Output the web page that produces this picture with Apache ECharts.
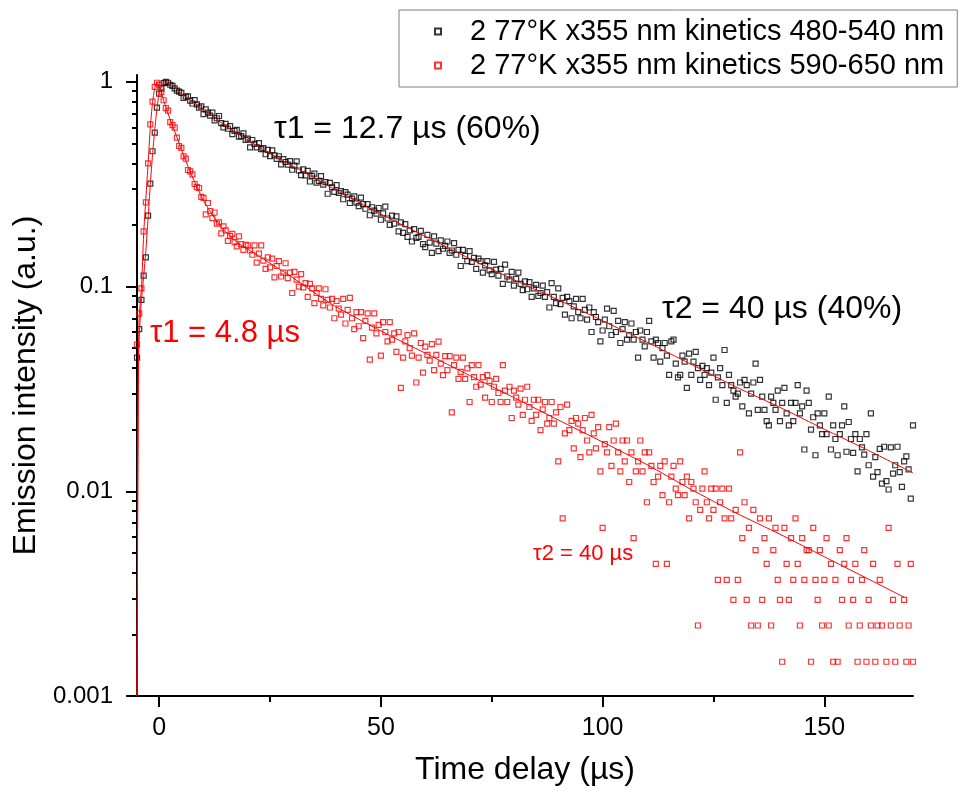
<!DOCTYPE html>
<html>
<head>
<meta charset="utf-8">
<script src="https://cdn.jsdelivr.net/npm/echarts@6/dist/echarts.min.js"></script>
<style>
  html, body { margin: 0; padding: 0; background: #fff; }
  #chart { width: 962px; height: 796px; }
</style>
</head>
<body>
<div id="chart"></div>
<script>
// ---- Data ----
const seriesNames = ['2 77°K x355 nm kinetics 480-540 nm', '2 77°K x355 nm kinetics 590-650 nm'];

// Sampling times (µs)
const timeDelay = [
  -5,-4.5,-4,-3.5,-3,-2.5,-2,-1.5,-1,-0.5,
  0,0.5,1,1.5,2,2.5,3,3.5,4,4.5,
  5,5.5,6,6.5,7,7.5,8,8.5,9,9.5,
  10,10.5,11,11.5,12,12.5,13,13.5,14,14.5,
  15,15.5,16,16.5,17,17.5,18,18.5,19,19.5,
  20,20.5,21,21.5,22,22.5,23,23.5,24,24.5,
  25,25.5,26,26.5,27,27.5,28,28.5,29,29.5,
  30,30.5,31,31.5,32,32.5,33,33.5,34,34.5,
  35,35.5,36,36.5,37,37.5,38,38.5,39,39.5,
  40,40.5,41,41.5,42,42.5,43,43.5,44,44.5,
  45,45.5,46,46.5,47,47.5,48,48.5,49,49.5,
  50,50.5,51,51.5,52,52.5,53,53.5,54,54.5,
  55,55.5,56,56.5,57,57.5,58,58.5,59,59.5,
  60,60.5,61,61.5,62,62.5,63,63.5,64,64.5,
  65,65.5,66,66.5,67,67.5,68,68.5,69,69.5,
  70,70.5,71,71.5,72,72.5,73,73.5,74,74.5,
  75,75.5,76,76.5,77,77.5,78,78.5,79,79.5,
  80,80.5,81,81.5,82,82.5,83,83.5,84,84.5,
  85,85.5,86,86.5,87,87.5,88,88.5,89,89.5,
  90,90.5,91,91.5,92,92.5,93,93.5,94,94.5,
  95,95.5,96,96.5,97,97.5,98,98.5,99,99.5,
  100,100.5,101,101.5,102,102.5,103,103.5,104,104.5,
  105,105.5,106,106.5,107,107.5,108,108.5,109,109.5,
  110,110.5,111,111.5,112,112.5,113,113.5,114,114.5,
  115,115.5,116,116.5,117,117.5,118,118.5,119,119.5,
  120,120.5,121,121.5,122,122.5,123,123.5,124,124.5,
  125,125.5,126,126.5,127,127.5,128,128.5,129,129.5,
  130,130.5,131,131.5,132,132.5,133,133.5,134,134.5,
  135,135.5,136,136.5,137,137.5,138,138.5,139,139.5,
  140,140.5,141,141.5,142,142.5,143,143.5,144,144.5,
  145,145.5,146,146.5,147,147.5,148,148.5,149,149.5,
  150,150.5,151,151.5,152,152.5,153,153.5,154,154.5,
  155,155.5,156,156.5,157,157.5,158,158.5,159,159.5,
  160,160.5,161,161.5,162,162.5,163,163.5,164,164.5,
  165,165.5,166,166.5,167,167.5,168,168.5,169,169.5,
  170
];

// Emission intensity, 480-540 nm (black squares)
const intensity480_540 = [
  0.045,0.062,0.086,0.113,0.139,0.222,0.318,0.458,0.565,0.748,
  0.875,0.93,0.985,1.0,0.99,0.968,0.955,0.93,0.905,0.895,
  0.884,0.834,0.847,0.849,0.809,0.784,0.815,0.776,0.748,0.759,
  0.695,0.733,0.707,0.684,0.707,0.648,0.664,0.681,0.629,0.599,
  0.623,0.59,0.608,0.555,0.576,0.583,0.54,0.543,0.56,0.521,
  0.528,0.479,0.52,0.498,0.479,0.502,0.469,0.474,0.443,0.465,
  0.434,0.463,0.438,0.42,0.433,0.395,0.419,0.406,0.394,0.41,
  0.372,0.39,0.409,0.369,0.35,0.374,0.349,0.367,0.326,0.347,
  0.356,0.322,0.328,0.346,0.315,0.324,0.284,0.321,0.305,0.29,
  0.313,0.287,0.293,0.267,0.289,0.281,0.256,0.269,0.276,0.257,
  0.247,0.272,0.253,0.24,0.253,0.223,0.244,0.235,0.227,0.242,
  0.212,0.228,0.246,0.215,0.2,0.222,0.203,0.22,0.186,0.206,
  0.183,0.202,0.175,0.188,0.166,0.191,0.173,0.175,0.187,0.161,
  0.156,0.179,0.164,0.146,0.176,0.162,0.149,0.168,0.153,0.158,
  0.166,0.146,0.15,0.163,0.143,0.151,0.126,0.151,0.141,0.133,
  0.149,0.132,0.138,0.122,0.137,0.133,0.117,0.127,0.133,0.12,
  0.115,0.132,0.121,0.113,0.122,0.103,0.128,0.112,0.108,0.118,
  0.101,0.109,0.117,0.103,0.096,0.106,0.097,0.105,0.089,0.098,
  0.102,0.09,0.093,0.101,0.089,0.094,0.079,0.104,0.089,0.083,
  0.098,0.082,0.088,0.073,0.089,0.085,0.07,0.08,0.087,0.075,
  0.07,0.087,0.077,0.069,0.079,0.06,0.075,0.071,0.067,0.054,
  0.061,0.069,0.078,0.064,0.058,0.076,0.06,0.068,0.053,0.062,
  0.067,0.055,0.058,0.066,0.055,0.06,0.045,0.061,0.055,0.051,
  0.06,0.068,0.054,0.045,0.055,0.053,0.043,0.05,0.053,0.046,
  0.037,0.054,0.055,0.042,0.036,0.037,0.046,0.043,0.032,0.047,
  0.037,0.043,0.048,0.04,0.035,0.041,0.037,0.04,0.033,0.038,
  0.045,0.028,0.036,0.04,0.033,0.049,0.027,0.037,0.033,0.031,
  0.029,0.03,0.034,0.026,0.035,0.033,0.024,0.03,0.034,0.042,
  0.025,0.035,0.029,0.025,0.022,0.021,0.029,0.027,0.025,0.031,
  0.022,0.027,0.032,0.024,0.021,0.027,0.022,0.027,0.033,0.024,
  0.026,0.016,0.031,0.027,0.02,0.023,0.015,0.024,0.021,0.019,
  0.024,0.019,0.029,0.016,0.021,0.018,0.015,0.019,0.021,0.026,
  0.0156,0.0218,0.018,0.0154,0.019,0.0125,0.018,0.0164,0.0151,0.019,
  0.0134,0.024,0.0118,0.0147,0.0124,0.0161,0.0109,0.0165,0.0112,0.0102,
  0.0164,0.0122,0.0134,0.0165,0.0124,0.0105,0.014,0.0148,0.0128,0.0092,
  0.021
];

// Emission intensity, 590-650 nm (red squares); null = no counts above the axis floor
const intensity590_650 = [
  0.052,0.074,0.098,0.186,0.258,0.40,0.62,0.80,0.945,0.99,
  0.97,0.894,0.813,0.744,0.723,0.635,0.615,0.598,0.534,0.486,
  0.476,0.432,0.422,0.371,0.365,0.353,0.317,0.306,0.303,0.274,
  0.271,0.225,0.256,0.234,0.216,0.23,0.203,0.206,0.182,0.197,
  0.188,0.167,0.177,0.181,0.165,0.157,0.176,0.161,0.151,0.16,
  0.159,0.15,0.143,0.159,0.131,0.145,0.159,0.134,0.122,0.139,
  0.124,0.137,0.111,0.126,0.133,0.112,0.117,0.13,0.11,0.117,
  0.093,0.118,0.108,0.1,0.115,0.099,0.104,0.089,0.103,0.098,
  0.083,0.093,0.098,0.087,0.081,0.097,0.086,0.079,0.087,0.07,
  0.085,0.078,0.073,0.087,0.066,0.077,0.088,0.07,0.062,0.075,
  0.064,0.075,0.056,0.068,0.074,0.044,0.063,0.074,0.059,0.065,
  0.046,0.067,0.06,0.054,0.067,0.055,0.059,0.048,0.06,0.032,
  0.045,0.054,0.058,0.05,0.046,0.059,0.034,0.045,0.053,0.038,
  0.0509,0.0464,0.0435,0.0523,0.0391,0.0464,0.0538,0.042,0.0369,0.0457,
  0.0391,0.0457,0.0243,0.0413,0.045,0.0354,0.0383,0.045,0.0354,0.0398,
  0.0273,0.0413,0.0361,0.0324,0.0413,0.0332,0.0361,0.0287,0.0369,0.0346,
  0.0273,0.0324,0.0354,0.0302,0.0273,0.0413,0.031,0.0273,0.0324,0.0228,
  0.031,0.0287,0.0265,0.0317,0.0236,0.028,0.0324,0.0258,0.0221,0.028,
  0.0236,0.028,0.0199,0.0251,0.0273,0.0214,0.0228,0.0273,0.0214,0.0243,
  0.014,0.0258,0.00737,0.0192,0.0265,0.0199,0.0221,0.0162,0.0228,0.0214,
  0.0147,0.0199,0.0228,0.0177,0.0155,0.0236,0.0192,0.0162,0.0206,0.0125,
  0.00663,0.017,0.0155,0.0206,0.0133,0.0177,0.0214,0.0155,0.0125,0.0177,
  0.014,0.0177,0.0111,0.0155,0.0059,0.0125,0.014,0.0177,0.0125,0.0155,
  0.00884,0.0155,0.0133,0.0111,0.00442,0.0118,0.0133,0.00958,0.014,0.00442,
  0.00884,0.0118,0.0133,0.0103,0.00958,0.014,0.0111,0.00958,0.0118,0.00737,
  0.0111,0.0103,0.00884,0.00221,0.00811,0.0103,0.0125,0.00884,0.00737,0.0103,
  0.00811,0.0103,0.00369,0.00884,0.0103,0.00737,0.00369,0.0103,0.00737,0.00295,
  0.00811,0.00369,0.0155,0.0059,0.00884,0.00295,0.00663,0.00221,0.00811,0.00516,
  0.00221,0.00737,0.00295,0.0059,0.00442,0.00737,0.00221,0.00516,0.00663,0.00369,
  0.00295,0.00147,0.00663,0.00442,0.00295,0.0059,0.00369,0.00737,0.00442,0.00221,
  0.0059,0.00369,0.00516,0.00516,0.00147,0.00663,0.00369,0.00295,0.00516,0.00221,
  0.00369,0.0059,0.00221,0.00442,0.00147,0.00369,0.00147,0.00516,0.00295,0.00442,
  0.0059,0.00221,0.00369,0.00295,0.00442,0.00147,0.00221,0.00369,0.00516,0.00147,
  0.00295,0.00221,0.00442,0.00147,0.00221,0.00369,0.00221,null,0.00147,0.00663,
  0.00221,0.00295,0.00147,0.00442,0.00221,null,0.00295,0.00147,0.00221,0.00442,
  0.00147
];

// Fit curves (drawn as thin red lines)
const fitTime480_540 = [-5,-4.9,-4.8,-4.7,-4.6,-4.4,-4,-3.5,-3,-2.5,-2,-1.5,-1,-0.5,0,0.5,1,1.5,2,3,4,5,7.5,10,12.5,15,17.5,20,25,30,35,40,50,60,70,80,90,100,110,120,130,140,150,160,170];
const fitValue480_540 = [0.001,0.0035,0.012,0.03,0.05,0.063,0.085,0.112,0.15,0.215,0.315,0.44,0.58,0.74,0.88,0.95,0.99,1.0,0.99,0.96,0.92,0.875,0.80,0.733,0.668,0.61,0.562,0.519,0.447,0.389,0.339,0.295,0.226,0.176,0.137,0.108,0.0861,0.0681,0.0535,0.0417,0.0324,0.0257,0.0201,0.0158,0.0123];
const fitTime590_650 = [-5,-4.9,-4.8,-4.7,-4.5,-4,-3.5,-3,-2.5,-2,-1.5,-1,-0.5,0,1,2,3,4,5,6,7,8,9,10,12,14,16,18,20,22,25,30,35,40,50,60,70,80,90,100,110,120,130,140,150,160,168];
const fitValue590_650 = [0.001,0.005,0.02,0.045,0.072,0.098,0.18,0.27,0.40,0.60,0.79,0.93,1.0,0.955,0.813,0.70,0.61,0.537,0.468,0.412,0.363,0.324,0.292,0.263,0.224,0.195,0.176,0.162,0.152,0.143,0.130,0.111,0.0933,0.0794,0.0607,0.0473,0.0368,0.0287,0.0223,0.0174,0.0135,0.0102,0.00785,0.00617,0.00479,0.00372,0.00304];

// Axis ticks
const xMajorTicks = [0, 50, 100, 150];
const xMinorTicks = [25, 75, 125];
const yMajorTicks = [0.001, 0.01, 0.1, 1];
const yTickLabels = ['0.001', '0.01', '0.1', '1'];
const yMinorTicks = [0.002,0.003,0.004,0.005,0.006,0.007,0.008,0.009,
                     0.02,0.03,0.04,0.05,0.06,0.07,0.08,0.09,
                     0.2,0.3,0.4,0.5,0.6,0.7,0.8,0.9];

// ---- Build ----
function pairs(xs, ys) {
  const out = [];
  const n = Math.min(xs.length, ys.length);
  for (let i = 0; i < n; i++) {
    if (ys[i] != null && ys[i] > 0) out.push([xs[i], ys[i]]);
  }
  return out;
}

const FONT = '"Liberation Sans", Arial, Helvetica, sans-serif';
const chart = echarts.init(document.getElementById('chart'), null, { renderer: 'canvas' });

const axisBlack = { color: '#000', width: 2 };

const option = {
  animation: false,
  backgroundColor: '#fff',
  textStyle: { fontFamily: FONT },
  grid: { left: 137, right: 49, top: 75, bottom: 100, containLabel: false },
  legend: {
    data: seriesNames,
    orient: 'vertical',
    left: 399,
    top: 10,
    padding: [7, 13, 7, 35],
    itemGap: 5,
    itemWidth: 6,
    itemHeight: 6,
    borderColor: '#7f7f7f',
    borderWidth: 1,
    textStyle: { fontSize: 29, color: '#000', fontFamily: FONT, padding: [0, 0, 0, 24] }
  },
  xAxis: [
    {
      type: 'value', min: -5, max: 170, position: 'bottom',
      name: 'Time delay (µs)', nameLocation: 'middle', nameGap: 58,
      nameTextStyle: { fontSize: 32, color: '#000', fontFamily: FONT },
      axisLine: { show: true, onZero: false, lineStyle: axisBlack },
      axisTick: { show: true, customValues: xMajorTicks, length: 11, lineStyle: axisBlack },
      axisLabel: { show: true, customValues: xMajorTicks, fontSize: 25, color: '#000', margin: 20, fontFamily: FONT },
      splitLine: { show: false }
    },
    {
      type: 'value', min: -5, max: 170, position: 'bottom',
      axisLine: { show: false, onZero: false },
      axisTick: { show: true, customValues: xMinorTicks, length: 6, lineStyle: axisBlack },
      axisLabel: { show: false },
      splitLine: { show: false }
    }
  ],
  yAxis: [
    {
      type: 'log', logBase: 10, min: 0.001, max: 1.08, position: 'left',
      name: 'Emission intensity (a.u.)', nameLocation: 'middle', nameGap: 86,
      nameTextStyle: { fontSize: 32, color: '#000', fontFamily: FONT },
      axisLine: { show: true, onZero: false, lineStyle: axisBlack },
      axisTick: { show: true, customValues: yMajorTicks, length: 11, lineStyle: axisBlack },
      axisLabel: {
        show: true, customValues: yMajorTicks, fontSize: 24, color: '#000', margin: 24, fontFamily: FONT,
        formatter: function (v) {
          for (let i = 0; i < yMajorTicks.length; i++) {
            if (Math.abs(Math.log10(v) - Math.log10(yMajorTicks[i])) < 1e-6) return yTickLabels[i];
          }
          return '';
        }
      },
      splitLine: { show: false }
    },
    {
      type: 'log', logBase: 10, min: 0.001, max: 1.08, position: 'left',
      axisLine: { show: false, onZero: false },
      axisTick: { show: true, customValues: yMinorTicks, length: 5, lineStyle: axisBlack },
      axisLabel: { show: false },
      splitLine: { show: false }
    }
  ],
  series: [
    {
      name: seriesNames[0], type: 'scatter', xAxisIndex: 0, yAxisIndex: 0,
      data: pairs(timeDelay, intensity480_540),
      symbol: 'rect', symbolSize: 5,
      itemStyle: { color: 'rgba(255,255,255,0)', borderColor: '#000', borderWidth: 1.2 },
      z: 2
    },
    {
      name: seriesNames[1], type: 'scatter', xAxisIndex: 0, yAxisIndex: 0,
      data: pairs(timeDelay, intensity590_650),
      symbol: 'rect', symbolSize: 5,
      itemStyle: { color: 'rgba(255,255,255,0)', borderColor: '#ff0000', borderWidth: 1.2 },
      z: 2
    },
    {
      name: 'fit 480-540', type: 'line', xAxisIndex: 0, yAxisIndex: 0,
      data: pairs(fitTime480_540, fitValue480_540),
      showSymbol: false, symbol: 'none', smooth: 0.2,
      lineStyle: { color: '#ff0000', width: 1 }, z: 3, silent: true
    },
    {
      name: 'fit 590-650', type: 'line', xAxisIndex: 0, yAxisIndex: 0,
      data: pairs(fitTime590_650, fitValue590_650),
      showSymbol: false, symbol: 'none', smooth: 0.2,
      lineStyle: { color: '#ff0000', width: 1 }, z: 3, silent: true
    }
  ],
  graphic: [
    { type: 'text', left: 274, top: 113, style: { text: 'τ1 = 12.7 µs (60%)', font: '32px ' + FONT, fill: '#000' } },
    { type: 'text', left: 662, top: 293, style: { text: 'τ2 = 40 µs (40%)', font: '32px ' + FONT, fill: '#000' } },
    { type: 'text', left: 150, top: 318, style: { text: 'τ1 = 4.8 µs', font: '31px ' + FONT, fill: '#ff0000' } },
    { type: 'text', left: 533, top: 543, style: { text: 'τ2 = 40 µs', font: '22px ' + FONT, fill: '#ff0000' } }
  ]
};

chart.setOption(option);
</script>
</body>
</html>
